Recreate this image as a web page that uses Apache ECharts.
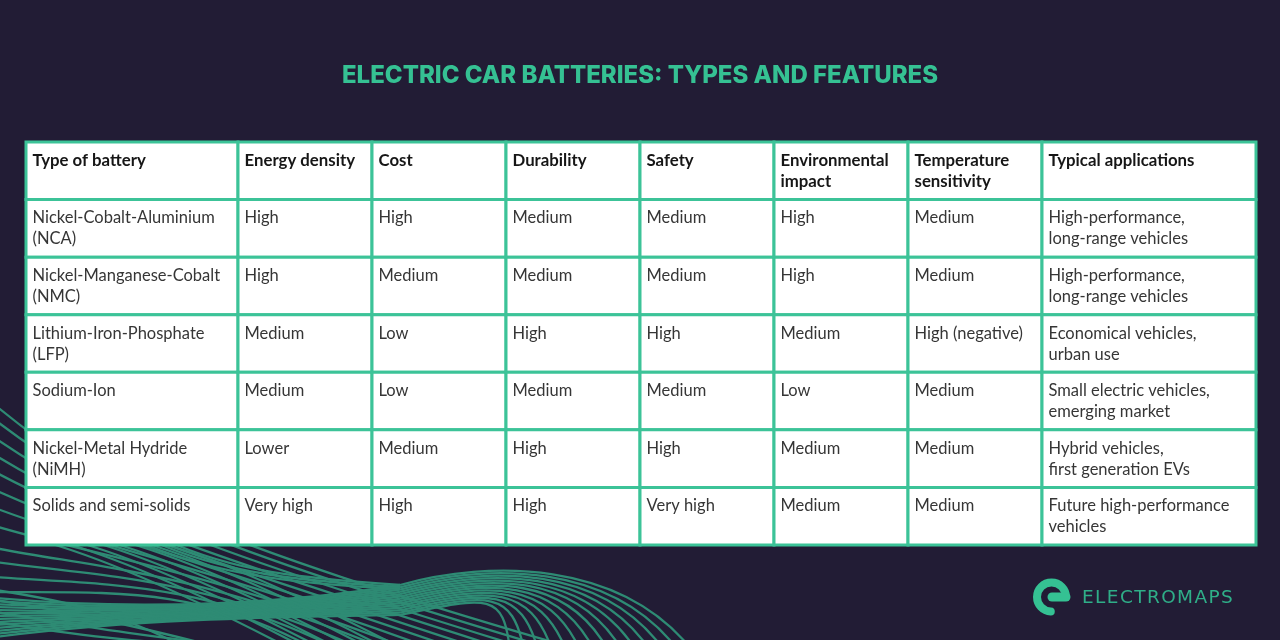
<!DOCTYPE html>
<html lang="en">
<head>
    <meta charset="UTF-8">
    <script src="https://cdn.jsdelivr.net/npm/echarts@6/dist/echarts.min.js"></script>
    <title>Electric car batteries: types and features</title>
    <style>
        html, body { margin: 0; background: #221c35; }
        #main { width: 1280px; height: 640px; }
    </style>
</head>
<body>
    <div id="main"></div>
    <script>
        var headers = ['Type of battery', 'Energy density', 'Cost', 'Durability', 'Safety', 'Environmental\nimpact', 'Temperature\nsensitivity', 'Typical applications'];
        var batteryTypes = ['Nickel-Cobalt-Aluminium\n(NCA)', 'Nickel-Manganese-Cobalt\n(NMC)', 'Lithium-Iron-Phosphate\n(LFP)', 'Sodium-Ion', 'Nickel-Metal Hydride\n(NiMH)', 'Solids and semi-solids'];
        var energyDensity = ['High', 'High', 'Medium', 'Medium', 'Lower', 'Very high'];
        var cost = ['High', 'Medium', 'Low', 'Low', 'Medium', 'High'];
        var durability = ['Medium', 'Medium', 'High', 'Medium', 'High', 'High'];
        var safety = ['Medium', 'Medium', 'High', 'Medium', 'High', 'Very high'];
        var environmentalImpact = ['High', 'High', 'Medium', 'Low', 'Medium', 'Medium'];
        var temperatureSensitivity = ['Medium', 'Medium', 'High (negative)', 'Medium', 'Medium', 'Medium'];
        var applications = ['High-performance,\nlong-range vehicles', 'High-performance,\nlong-range vehicles', 'Economical vehicles,\nurban use', 'Small electric vehicles,\nemerging market', 'Hybrid vehicles,\nfirst generation EVs', 'Future high-performance\nvehicles'];

        var columns = [batteryTypes, energyDensity, cost, durability, safety, environmentalImpact, temperatureSensitivity, applications];
        // column edges in axis units (pixels of the page)
        var colEdges = [26, 238, 372, 506, 640, 774, 908, 1042, 1256];
        var GREEN = '#3cc398';

        var cells = [];
        headers.forEach(function (h, c) {
            cells.push({ value: [colEdges[c], 0, colEdges[c + 1]], text: h, head: true });
            columns[c].forEach(function (t, r) {
                cells.push({ value: [colEdges[c], r + 1, colEdges[c + 1]], text: t, head: false });
            });
        });

        function renderCell(params, api) {
            var cell = cells[params.dataIndex];
            var p0 = api.coord([api.value(0), api.value(1)]);
            var p1 = api.coord([api.value(2), api.value(1)]);
            var h = api.size([0, 1])[1];
            var top = p0[1] - h / 2;
            return {
                type: 'group',
                children: [
                    {
                        type: 'rect',
                        shape: { x: p0[0], y: top, width: p1[0] - p0[0], height: h },
                        style: { fill: '#fff', stroke: GREEN, lineWidth: 3 }
                    },
                    {
                        type: 'text',
                        style: {
                            x: p0[0] + 6.5,
                            y: top + 8,
                            text: cell.text,
                            fill: cell.head ? '#161616' : '#363636',
                            font: (cell.head ? 'bold 16.8px' : '16.5px') + ' Lato',
                            lineHeight: 21,
                            verticalAlign: 'top'
                        }
                    }
                ]
            };
        }

        // background wave lines, purely decoration
        var waves = [];
        function wave(x0, y0, a, b, c, d, x3, y3) {
            waves.push({
                type: 'bezierCurve',
                shape: { x1: x0, y1: y0, cpx1: a, cpy1: b, cpx2: c, cpy2: d, x2: x3, y2: y3 },
                style: { stroke: '#2e8b74', lineWidth: 2.3, fill: null }
            });
        }
        // lines fanning in from the left edge, bending down through the mesh
        var leftStarts = [405, 420, 438, 455, 472, 490, 508, 526, 548, 562, 577, 592];
        leftStarts.forEach(function (y, i) {
            var bend = 540 + i * 4;
            wave(-5, y, 100, y + (bend + 10 - y) * 0.6, 200, bend, 580 - i * 24, 650);
        });
        // lines from the low band, up to the crest and falling away
        var arcStarts = [598, 601, 604, 607, 610, 613, 616, 619, 622, 625, 628, 631, 634, 637];
        arcStarts.forEach(function (y, i) {
            var dy = i * 2.3;
            wave(-5, y, 150, 612 + i * 0.4, 300, 602 + dy * 0.5, 400, 585 + dy);
            wave(400, 585 + dy, 490, 560 + dy * 1.2, 620 - i * 9, 560 + dy * 1.1, 692 - i * 14, 650);
        });
        // lines that dip out from behind the table and join the crest
        var dipStarts = [165, 150, 135];
        dipStarts.forEach(function (x, i) {
            wave(x, 540, 235 - i * 10, 572 + i * 2, 300, 578 + i * 3, 400, 585 + i * 2);
        });
        // steep lines behind the mesh
        var steepStarts = [150, 134, 118, 102, 86, 70, 54, 38];
        steepStarts.forEach(function (x, i) {
            wave(x, 540, x + 60, 556, x + 140, 590, x + 255, 650);
        });
        // low crossing lines
        var lowStarts = [590, 600, 612, 622];
        lowStarts.forEach(function (y, i) {
            wave(-5, y, 60, y + 10, 120, y + 22, 190 + i * 40, 650);
        });

        // logo mark and word, word letter by letter for the wide tracking
        var logo = [
            {
                type: 'arc',
                shape: { cx: 1051.5, cy: 597, r: 14.5, startAngle: 0, endAngle: Math.PI / 2 + 0.05, clockwise: false },
                style: { stroke: '#35c193', lineWidth: 8, lineCap: 'round', fill: null }
            },
            {
                type: 'line',
                shape: { x1: 1052, y1: 597, x2: 1066, y2: 597 },
                style: { stroke: '#35c193', lineWidth: 9, lineCap: 'round' }
            }
        ];
        var logoFont = '18.5px "DejaVu Sans"';
        var measure = document.createElement('canvas').getContext('2d');
        measure.font = logoFont;
        var logoX = 1082;
        'ELECTROMAPS'.split('').forEach(function (ch) {
            logo.push({
                type: 'text',
                style: { x: logoX, y: 598, text: ch, fill: '#2fae88', font: logoFont, verticalAlign: 'middle' }
            });
            logoX += measure.measureText(ch).width + 1.4;
        });

        var chart = echarts.init(document.getElementById('main'));
        chart.setOption({
            backgroundColor: '#221c35',
            animation: false,
            title: {
                text: 'ELECTRIC CAR BATTERIES: TYPES AND FEATURES',
                left: 'center',
                top: 59,
                textStyle: { color: '#35c193', fontFamily: 'Inter', fontWeight: 800, fontSize: 24 }
            },
            grid: { left: 26, right: 24, top: 142, bottom: 95 },
            xAxis: { type: 'value', min: 26, max: 1256, show: false },
            yAxis: {
                type: 'category',
                inverse: true,
                show: false,
                data: ['Header'].concat(batteryTypes)
            },
            graphic: [
                { type: 'group', silent: true, z: 0, children: waves },
                { type: 'group', silent: true, z: 10, children: logo }
            ],
            series: [{
                type: 'custom',
                z: 5,
                clip: false,
                silent: true,
                renderItem: renderCell,
                encode: { x: 0, y: 1 },
                data: cells
            }]
        });
    </script>
</body>
</html>
